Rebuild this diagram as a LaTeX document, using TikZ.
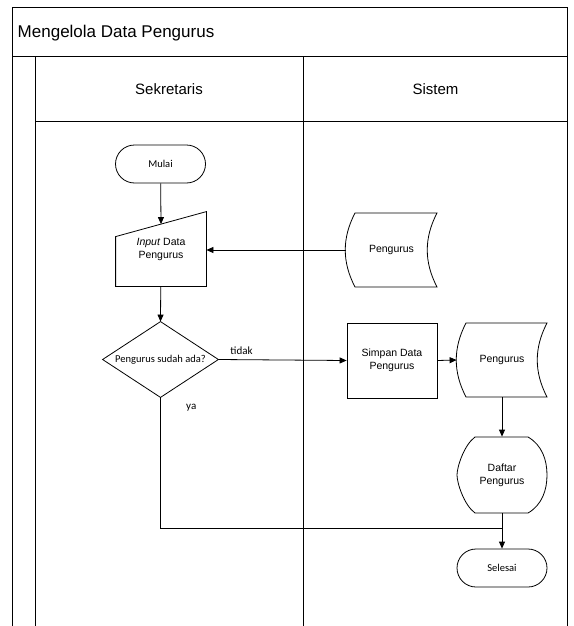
\documentclass[tikz,border=0pt]{standalone}
\usepackage{fontspec}
\setmainfont{Liberation Sans}
\newfontfamily\calfont{Carlito}
\usetikzlibrary{arrows.meta,calc}

\begin{document}
\begin{tikzpicture}[x=1pt,y=-1pt,line width=0.8pt,
  panah/.style={-{Triangle[length=7pt,width=6pt]}},
  kotak/.style={inner sep=0pt,minimum width=90pt,minimum height=#1,align=center,
    font=\fontsize{10.5}{13}\selectfont},
  terminal/.style={draw,rounded corners=19pt,inner sep=0pt,minimum width=90pt,
    minimum height=38pt,font=\calfont\fontsize{10.5}{12}\selectfont},
  kecil/.style={font=\calfont\fontsize{11}{13}\selectfont}]
\useasboundingbox (0,0) rectangle (573,626);
% swimlane frame
\draw (12.7,626) -- (12.7,7) -- (567,7) -- (567,626);
\draw (12.7,56) -- (567,56);
\draw (35,626) -- (35,56);
\draw (303,626) -- (303,56);
\draw (35,121) -- (567,121);
\node [anchor=west,font=\fontsize{17}{20}\selectfont] (judul) at (14,33) {Mengelola Data Pengurus};
\node [font=\fontsize{15}{18}\selectfont] (sekretaris) at (169,89) {Sekretaris};
\node [font=\fontsize{15}{18}\selectfont] (sistem) at (435.5,89) {Sistem};
% nodes
\node [terminal] (mulai) at (160.5,164) {Mulai};
\node [kotak=74pt] (inp) at (161,249) {\textit{Input} Data\\Pengurus};
\draw (inp.south west) -- (inp.south east) -- (inp.north east) -- ($(inp.north west)+(0,25)$) -- cycle;
\coordinate (inptop) at ($(inp.north)+(0,12.5)$);
\node [kotak=74pt,minimum width=91pt] (sd1) at (391.5,250) {Pengurus};
\draw [shift={(sd1.center)}] (-36.5,-37) -- (45.5,-37) .. controls (32.5,-12) and (32.5,12) .. (45.5,37)
  -- (-36.5,37) .. controls (-49.5,12) and (-49.5,-12) .. (-36.5,-37) -- cycle;
\node [kotak=75pt,minimum width=115pt,font=\calfont\fontsize{10.5}{12}\selectfont] (cek) at (160.5,359.5) {Pengurus sudah ada?};
\draw (cek.west) -- (cek.north) -- (cek.east) -- (cek.south) -- cycle;
\node [kotak=75pt,draw] (simpan) at (392,360.5) {Simpan Data\\Pengurus};
\node [kotak=74pt] (sd2) at (502,360) {Pengurus};
\draw [shift={(sd2.center)}] (-36,-37) -- (45,-37) .. controls (32,-12) and (32,12) .. (45,37)
  -- (-36,37) .. controls (-49,12) and (-49,-12) .. (-36,-37) -- cycle;
\node [kotak=76pt] (daftar) at (502,475) {Daftar\\Pengurus};
\draw [shift={(daftar.center)}] (-27,-38) -- (26,-38) .. controls (40,-30) and (45,-15) .. (45,0)
  .. controls (45,15) and (40,30) .. (26,38) -- (-27,38) .. controls (-38,30) and (-45,8) .. (-45,0)
  .. controls (-45,-8) and (-38,-30) .. (-27,-38) -- cycle;
\node [terminal] (selesai) at (502,568) {Selesai};
\coordinate (gabung) at (502,528);
% connectors
\draw [panah] (mulai) -- (inptop);
\draw [panah] (sd1.west) -- (sd1.west -| inp.east);
\draw [panah] (inp) -- (cek.north);
\draw [panah] (cek.east) -- (simpan.west) node [pos=0.18,above=1pt,kecil] (tidak) {tidak};
\draw [panah] (simpan.east) -- (sd2.west);
\draw [panah] (sd2.south) -- (daftar.north);
\draw (cek.south) |- (gabung) node [pos=0.04,right=22pt,kecil] (ya) {ya};
\draw [panah] (daftar.south) -- (selesai.north);
\end{tikzpicture}
\end{document}
